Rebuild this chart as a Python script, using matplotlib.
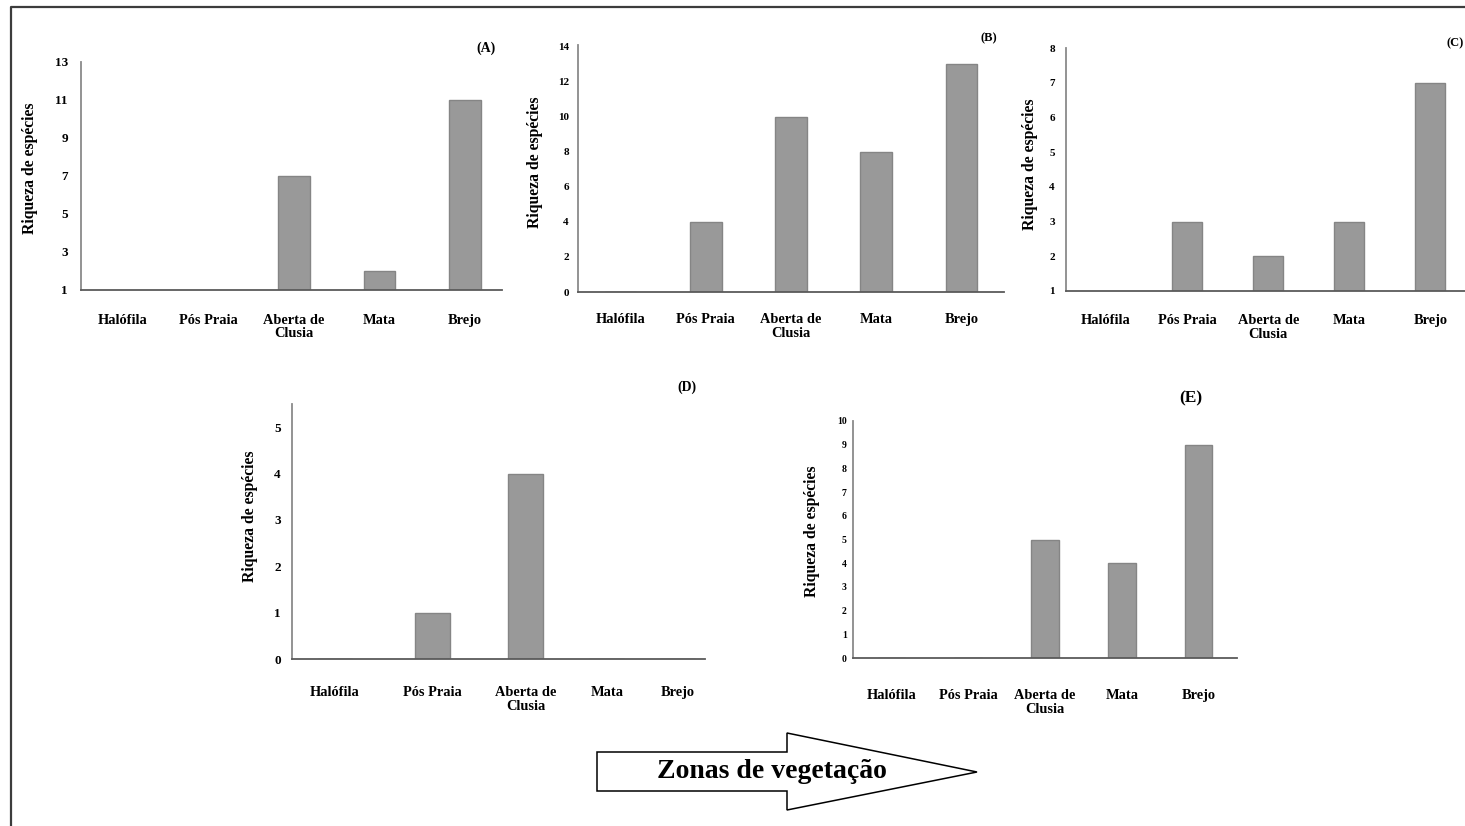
import matplotlib
matplotlib.use("Agg")
import matplotlib.pyplot as plt
from matplotlib.patches import Polygon
from matplotlib.lines import Line2D

plt.rcParams['font.family'] = ['Liberation Serif', 'DejaVu Serif']
plt.rcParams['font.weight'] = 'bold'

W, H = 1465, 826

zones = ["Halófila", "Pós Praia", "Aberta de\nClusia", "Mata", "Brejo"]

rich_a = [0, 0, 7, 2, 11]
rich_b = [0, 4, 10, 8, 13]
rich_c = [0, 3, 2, 3, 7]
rich_d = [0, 1, 4, 0, 0]
rich_e = [0, 0, 5, 4, 9]

ticks_a = [1, 3, 5, 7, 9, 11, 13]
ticks_b = [0, 2, 4, 6, 8, 10, 12, 14]
ticks_c = [1, 2, 3, 4, 5, 6, 7, 8]
ticks_d = [0, 1, 2, 3, 4, 5]
ticks_e = [0, 1, 2, 3, 4, 5, 6, 7, 8, 9, 10]

ylabel = "Riqueza de espécies"
arrow_text = "Zonas de vegetação"

fig = plt.figure(figsize=(W / 100, H / 100), dpi=100)
fig.patch.set_facecolor("white")


def fx(x):
    return x / W


def fy(y):
    return 1 - y / H


def panel(box, values, yticks, ylim, xlim, positions, bar_w, tag, tag_xy,
          tag_size, tick_size, ypad, xpad, ylab_xy):
    l, t, r, b = box
    ax = fig.add_axes([fx(l), fy(b), (r - l) / W, (b - t) / H])
    ax.bar(positions, values, width=bar_w, color="#999999",
           edgecolor="#858585", linewidth=1.0, zorder=2)
    ax.set_xlim(*xlim)
    ax.set_ylim(*ylim)
    ax.set_yticks(yticks)
    ax.set_yticklabels([str(v) for v in yticks], fontsize=tick_size,
                       fontweight="bold")
    ax.set_xticks(positions)
    ax.set_xticklabels(zones, fontsize=10.4, fontweight="bold", va="top")
    for lab in ax.get_xticklabels():
        lab.set_linespacing(1.08)
        lab.set_multialignment("center")
    ax.tick_params(axis="y", length=0, pad=ypad)
    ax.tick_params(axis="x", length=0, pad=xpad)
    for s in ("top", "right"):
        ax.spines[s].set_visible(False)
    ax.spines["left"].set_color("#8a8a8a")
    ax.spines["bottom"].set_color("#5a5a5a")
    ax.spines["left"].set_linewidth(1.3)
    ax.spines["bottom"].set_linewidth(1.3)
    ax.set_facecolor("none")
    ax.set_ylabel(ylabel, fontsize=11.3, fontweight="bold", va="center")
    lx, ly = ylab_xy
    ax.yaxis.set_label_coords((lx - l) / (r - l), (b - ly) / (b - t))
    fig.text(fx(tag_xy[0]), fy(tag_xy[1]), tag, fontsize=tag_size,
             fontweight="bold", ha="center", va="center")
    return ax


panel((81, 62, 502, 290), rich_a, ticks_a, (1, 13), (-0.49, 4.43),
      [0, 1, 2, 3, 4], 0.37, "(A)", (486, 48), 10, 9.5, 9.5, 17, (30, 168))
panel((578, 45, 1004, 292), rich_b, ticks_b, (0, 14.1), (-0.5, 4.5),
      [0, 1, 2, 3, 4], 0.37, "(B)", (989, 38), 9, 8, 6.5, 15, (535, 162))
panel((1066, 48, 1471, 291), rich_c, ticks_c, (1, 8), (-0.494, 4.5),
      [0, 1, 2, 3, 4], 0.37, "(C)", (1455, 43), 9, 8, 8, 16.5, (1030, 164))
panel((292, 404, 705, 659), rich_d, ticks_d, (0, 5.5), (-0.5, 4.5),
      [0.02, 1.2, 2.33, 3.31, 4.17], 0.42, "(D)", (687, 387), 10, 9.5, 8,
      19.5, (250, 516))
panel((853, 421, 1237, 658), rich_e, ticks_e, (0, 10), (-0.5, 4.5),
      [0, 1, 2, 3, 4], 0.36, "(E)", (1191, 398), 12.5, 7, 4.5, 22.5,
      (812, 531))

# Outer frame (left and top edges)
fig.add_artist(Line2D([fx(11), fx(11), fx(W)], [fy(H), fy(7), fy(7)],
                      transform=fig.transFigure, color="#3c3c3c",
                      linewidth=1.6))

# Block arrow with caption
arrow_px = [(597, 752), (787, 752), (787, 733), (977, 772),
            (787, 810), (787, 791), (597, 791)]
fig.add_artist(Polygon([(fx(x), fy(y)) for x, y in arrow_px], closed=True,
                       transform=fig.transFigure, facecolor="white",
                       edgecolor="black", linewidth=1.1))
fig.text(fx(772), fy(772), arrow_text, fontsize=20, fontweight="bold",
         ha="center", va="center")

fig.savefig("out.png", dpi=100, facecolor="white")
